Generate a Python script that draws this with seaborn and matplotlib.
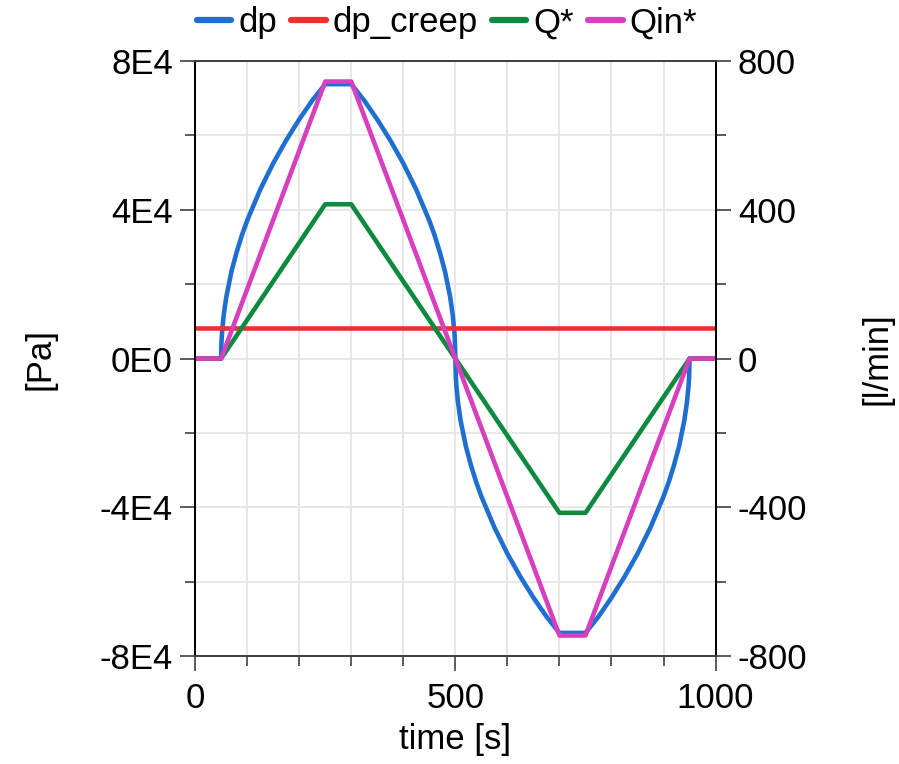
import numpy as np
import pandas as pd
import matplotlib
matplotlib.use("Agg")
import matplotlib.pyplot as plt
from matplotlib.ticker import MultipleLocator, FixedLocator, FixedFormatter
import seaborn as sns

# ---- data ----
t_dp = [0, 50, 50.5, 51, 52, 55, 60, 70, 80, 90, 100, 125, 150, 175, 200, 225, 250,
        300, 325, 350, 375, 400, 425, 450, 460, 470, 480, 490, 495, 498, 499, 500,
        501, 502, 505, 510, 520, 530, 540, 550, 575, 600, 625, 650, 675, 700,
        750, 775, 800, 825, 850, 875, 900, 910, 920, 930, 940, 945, 948, 949, 950, 1000]
dp = [0, 0, 3700, 5200, 7400, 11700, 16600, 23500, 28700, 33200, 37100, 45400, 52500,
      58700, 64300, 69400, 73800,
      73800, 69400, 64300, 58700, 52500, 45400, 37100, 33200, 28700, 23500, 16600, 11700,
      7400, 5200, 0,
      -5200, -7400, -11700, -16600, -23500, -28700, -33200, -37100, -45400, -52500,
      -58700, -64300, -69400, -73800,
      -73800, -69400, -64300, -58700, -52500, -45400, -37100, -33200, -28700, -23500,
      -16600, -11700, -7400, -5200, 0, 0]

t_creep = [0, 1000]
dp_creep = [8300, 8300]

t_q = [0, 50, 250, 300, 700, 750, 950, 1000]
q_star = [0, 0, 415, 415, -415, -415, 0, 0]
qin_star = [0, 0, 745, 745, -745, -745, 0, 0]

x_ticks = [0, 500, 1000]
x_labels = ["0", "500", "1000"]
yl_ticks = [-8e4, -4e4, 0, 4e4, 8e4]
yl_labels = ["-8E4", "-4E4", "0E0", "4E4", "8E4"]
yr_ticks = [-800, -400, 0, 400, 800]
yr_labels = ["-800", "-400", "0", "400", "800"]

# ---- styling ----
sns.set_style("white")
plt.rcParams["font.family"] = ["Liberation Sans", "DejaVu Sans"]
plt.rcParams["text.color"] = "black"
plt.rcParams["axes.labelcolor"] = "black"
plt.rcParams["xtick.color"] = "black"
plt.rcParams["ytick.color"] = "black"

c_dp = "#1f6fd1"
c_creep = "#ee3030"
c_q = "#0d8a40"
c_qin = "#d73fbf"
lw = 3.3
fs = 25

fig = plt.figure(figsize=(8.99, 7.64), dpi=100)
ax = fig.add_axes([0.217, 0.1414, 0.579, 0.7786])
ax2 = ax.twinx()

df_dp = pd.DataFrame({"t": t_dp, "v": dp})
df_cr = pd.DataFrame({"t": t_creep, "v": dp_creep})
df_q = pd.DataFrame({"t": t_q, "q": q_star, "qin": qin_star})

sns.lineplot(data=df_dp, x="t", y="v", ax=ax, color=c_dp, lw=lw, sort=False,
             estimator=None, label="dp", legend=False)
sns.lineplot(data=df_cr, x="t", y="v", ax=ax, color=c_creep, lw=lw, sort=False,
             estimator=None, label="dp_creep", legend=False)
sns.lineplot(data=df_q, x="t", y="q", ax=ax2, color=c_q, lw=lw, sort=False,
             estimator=None, label="Q*", legend=False)
sns.lineplot(data=df_q, x="t", y="qin", ax=ax2, color=c_qin, lw=lw, sort=False,
             estimator=None, label="Qin*", legend=False)

ax.set_xlim(0, 1000)
ax.set_ylim(-8e4, 8e4)
ax2.set_ylim(-800, 800)

ax.xaxis.set_major_locator(FixedLocator(x_ticks))
ax.xaxis.set_major_formatter(FixedFormatter(x_labels))
ax.xaxis.set_minor_locator(MultipleLocator(100))
ax.yaxis.set_major_locator(FixedLocator(yl_ticks))
ax.yaxis.set_major_formatter(FixedFormatter(yl_labels))
ax.yaxis.set_minor_locator(MultipleLocator(2e4))
ax2.yaxis.set_major_locator(FixedLocator(yr_ticks))
ax2.yaxis.set_major_formatter(FixedFormatter(yr_labels))
ax2.yaxis.set_minor_locator(MultipleLocator(200))

ax.grid(which="both", color="#e6e6e6", lw=1.3)
ax.set_axisbelow(True)

tick_col = "#404040"
for a in (ax, ax2):
    a.tick_params(which="major", direction="out", length=11, width=1.2,
                  color=tick_col, labelsize=fs, pad=5, labelcolor="black")
    a.tick_params(which="minor", direction="out", length=7, width=1.2, color=tick_col)
ax.tick_params(axis="y", which="both", right=False, left=True)
ax.tick_params(axis="x", which="both", bottom=True, top=False)
ax.tick_params(axis="x", which="major", pad=8)
ax2.tick_params(axis="y", which="both", right=True, left=False)

for a in (ax, ax2):
    for s in ("left", "right"):
        a.spines[s].set_color("black")
        a.spines[s].set_linewidth(1.3)
    for s in ("top", "bottom"):
        a.spines[s].set_color(tick_col)
        a.spines[s].set_linewidth(1.3)

ax.set_xlabel("time [s]", fontsize=fs, color="black", va="center")
ax.xaxis.set_label_coords(0.5, -0.141)
ax.set_ylabel("[Pa]", fontsize=fs, color="black", va="center", ha="center")
ax.yaxis.set_label_coords(-0.297, 0.5)
ax2.set_ylabel("[l/min]", fontsize=fs, color="black", va="center", ha="center")
ax2.yaxis.set_label_coords(1.311, 0.5)

h1, l1 = ax.get_legend_handles_labels()
h2, l2 = ax2.get_legend_handles_labels()
leg = fig.legend(h1 + h2, l1 + l2, loc="center", bbox_to_anchor=(0.497, 0.970), ncol=4,
                 frameon=False, fontsize=fs, handlelength=1.0, handletextpad=0.2,
                 columnspacing=0.4, borderaxespad=0)
for line in leg.get_lines():
    line.set_linewidth(4.5)

fig.savefig("out.png", dpi=100)
